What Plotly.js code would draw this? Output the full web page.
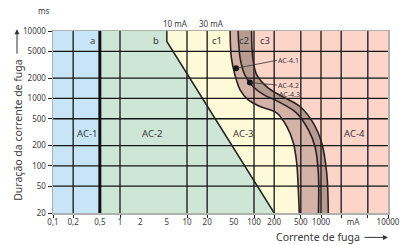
<!DOCTYPE html>
<html><head><meta charset="utf-8">
<script src="https://cdn.plot.ly/plotly-3.0.1.min.js"></script>
<style>html,body{margin:0;padding:0;background:#fff}#chart{width:401px;height:245px}</style>
</head><body><div id="chart"></div>
<script>
// ---- data ----
const xMin = 0.1, xMax = 10000, yMin = 20, yMax = 10000;
const xTickVals = [0.1, 0.2, 0.5, 1, 2, 5, 10, 20, 50, 100, 200, 500, 1000, 3000, 10000];
const xTickText = ['0,1', '0,2', '0,5', '1', '2', '5', '10', '20', '50', '100', '200', '500', '1000', 'mA', '10000'];
const yTickVals = [20, 50, 100, 200, 500, 1000, 2000, 5000, 10000];
const yTickText = ['20', '50', '100', '200', '500', '1000', '2000', '5000', '10000'];
const xGrid = [0.2, 1, 10, 20, 100, 200, 500, 1000, 2000, 5000];
const yGrid = [50, 100, 200, 500, 1000, 2000, 5000];
const lineA_x = [0.5, 0.5];
const lineA_y = [20, 10000];
const curveB_x = [5, 5, 200];
const curveB_y = [10000, 7000, 20];
const curveC1_x = [44, 46, 52, 62, 82, 123, 218, 308, 386, 434, 458, 474];
const curveC1_y = [10000, 3950, 2230, 1340, 950, 760, 610, 385, 220, 110, 45, 20];
const curveC2_x = [58, 62, 73, 97, 141, 220, 434, 646, 813, 912, 915];
const curveC2_y = [10000, 3990, 2230, 1490, 1130, 920, 606, 344, 194, 79, 20];
const curveC3_x = [92, 96, 110, 162, 271, 486, 768, 1024, 1216, 1285];
const curveC3_y = [10000, 3990, 2230, 1435, 1056, 759, 431, 218, 79, 20];
const dots_x = [54, 87];
const dots_y = [2800, 1720];
const zoneLabels = ['AC-1', 'AC-2', 'AC-3', 'AC-4'];
const zoneLabel_x = [0.32, 3.0, 68, 3200];
const zoneLabel_y = 300;
const curveLabels = ['a', 'b', 'c1', 'c2', 'c3'];
const curveLabel_x = [0.395, 3.39, 28, 71.7, 146];
const curveLabel_y = 7350;

// ---- styles ----
const C_BLUE = '#c7e5f6', C_GREEN = '#cde6d6', C_CREAM = '#fefad8', C_PINK = '#fcd5c8';
const C_BAND1 = '#d3b2a7', C_BAND2 = '#b79b91';
const FONT = 'Noto Sans, Open Sans, sans-serif';
const TXT = '#3a3a3a';
const L = Math.log10;

function gridLinesX(vals) { const x = [], y = []; vals.forEach(v => { x.push(v, v, null); y.push(yMin, yMax, null); }); return {x, y}; }
function gridLinesY(vals) { const x = [], y = []; vals.forEach(v => { x.push(xMin, xMax, null); y.push(v, v, null); }); return {x, y}; }
const gx = gridLinesX(xGrid), gy = gridLinesY(yGrid);

const traces = [
  {x: [xMin, lineA_x[0], lineA_x[1], xMin], y: [yMin, lineA_y[0], lineA_y[1], yMax], fill: 'toself', fillcolor: C_BLUE, mode: 'lines', line: {width: 0}, hoverinfo: 'skip'},
  {x: [lineA_x[0]].concat(curveB_x, [lineA_x[0]]), y: [yMax].concat(curveB_y, [yMin]), fill: 'toself', fillcolor: C_GREEN, mode: 'lines', line: {width: 0}, hoverinfo: 'skip'},
  {x: curveB_x, y: curveB_y, mode: 'lines', line: {width: 0}, hoverinfo: 'skip'},
  {x: curveC1_x, y: curveC1_y, mode: 'lines', fill: 'tonextx', fillcolor: C_CREAM, line: {width: 0, shape: 'spline', smoothing: 1}, hoverinfo: 'skip'},
  {x: curveC2_x, y: curveC2_y, mode: 'lines', fill: 'tonextx', fillcolor: C_BAND1, line: {width: 0, shape: 'spline', smoothing: 1}, hoverinfo: 'skip'},
  {x: curveC3_x, y: curveC3_y, mode: 'lines', fill: 'tonextx', fillcolor: C_BAND2, line: {width: 0, shape: 'spline', smoothing: 1}, hoverinfo: 'skip'},
  {x: gx.x, y: gx.y, mode: 'lines', line: {color: '#151515', width: 1.3}, connectgaps: false, hoverinfo: 'skip'},
  {x: gy.x, y: gy.y, mode: 'lines', line: {color: '#151515', width: 1.3}, connectgaps: false, hoverinfo: 'skip'},
  {x: lineA_x, y: lineA_y, mode: 'lines', line: {color: '#111', width: 3}, hoverinfo: 'skip'},
  {x: curveB_x, y: curveB_y, mode: 'lines', line: {color: '#222', width: 1.5}, hoverinfo: 'skip'},
  {x: curveC1_x, y: curveC1_y, mode: 'lines', line: {color: '#2a2220', width: 1.6, shape: 'spline', smoothing: 1}, hoverinfo: 'skip'},
  {x: curveC2_x, y: curveC2_y, mode: 'lines', line: {color: '#2a2220', width: 1.6, shape: 'spline', smoothing: 1}, hoverinfo: 'skip'},
  {x: curveC3_x, y: curveC3_y, mode: 'lines', line: {color: '#2a2220', width: 1.6, shape: 'spline', smoothing: 1}, hoverinfo: 'skip'},
  {x: dots_x, y: dots_y, xaxis: 'x2', mode: 'markers', marker: {color: '#151515', size: 6}, hoverinfo: 'skip'}
];

const base = {xanchor: 'center', yanchor: 'middle', showarrow: false};
const annotations = [];
zoneLabels.forEach((t, i) => annotations.push(Object.assign({}, base, {x: L(zoneLabel_x[i]), y: L(zoneLabel_y), xref: 'x', yref: 'y', text: t, font: {family: FONT, size: 9.5, color: TXT}})));
curveLabels.forEach((t, i) => annotations.push(Object.assign({}, base, {x: L(curveLabel_x[i]), y: L(curveLabel_y), xref: 'x', yref: 'y', text: t, font: {family: FONT, size: 9.5, color: TXT}})));
annotations.push(
  {x: L(dots_x[0]), y: L(dots_y[0]), xref: 'x', yref: 'y', text: 'AC-4.1', showarrow: true, arrowhead: 0, arrowwidth: 0.8, arrowcolor: '#333', ax: 41, ay: -8, xanchor: 'left', yanchor: 'middle', font: {family: FONT, size: 7, color: TXT}, borderpad: 0},
  {x: L(dots_x[1]), y: L(dots_y[1]), xref: 'x', yref: 'y', text: 'AC-4.2', showarrow: true, arrowhead: 0, arrowwidth: 0.8, arrowcolor: '#333', ax: 27, ay: 2.5, xanchor: 'left', yanchor: 'middle', font: {family: FONT, size: 7, color: TXT}, borderpad: 0},
  Object.assign({}, base, {x: L(dots_x[1]), y: L(dots_y[1]), xref: 'x', yref: 'y', text: 'AC-4.3', xanchor: 'left', xshift: 27, yshift: -11.5, font: {family: FONT, size: 7, color: TXT}}),
  Object.assign({}, base, {x: 0.367, y: 1.04, xref: 'paper', yref: 'paper', text: '10 mA', font: {family: FONT, size: 8, color: TXT}}),
  Object.assign({}, base, {x: 0.472, y: 1.04, xref: 'paper', yref: 'paper', text: '30 mA', font: {family: FONT, size: 8, color: TXT}}),
  Object.assign({}, base, {x: -0.027, y: 1.115, xref: 'paper', yref: 'paper', text: 'ms', font: {family: FONT, size: 8, color: TXT}}),
  Object.assign({}, base, {x: 0, y: 0.457, xref: 'paper', yref: 'paper', xshift: -35, text: 'Duração da corrente de fuga', textangle: -90, font: {family: FONT, size: 10.5, color: TXT}}),
  {x: 0, y: 1.01, xref: 'paper', yref: 'paper', xshift: -36, text: '', showarrow: true, arrowhead: 2, arrowsize: 1, arrowwidth: 1, arrowcolor: '#333', ax: 0, ay: 26},
  Object.assign({}, base, {x: 0.79, y: -0.134, xref: 'paper', yref: 'paper', text: 'Corrente de fuga', font: {family: FONT, size: 10.5, color: TXT}}),
  {x: 1.0, y: -0.134, xref: 'paper', yref: 'paper', text: '', showarrow: true, arrowhead: 2, arrowsize: 1, arrowwidth: 1, arrowcolor: '#333', ax: -25, ay: 0}
);

const layout = {
  width: 401, height: 245,
  margin: {l: 53, r: 13, t: 31, b: 32, pad: 0},
  paper_bgcolor: '#ffffff', plot_bgcolor: C_PINK,
  showlegend: false,
  xaxis: {type: 'log', range: [L(xMin), L(xMax)], tickmode: 'array', tickvals: [xMin].concat(xGrid, [xMax]), ticks: 'outside', ticklen: 3, tickcolor: '#222', tickwidth: 1, showticklabels: false, showgrid: false, zeroline: false, showline: true, linecolor: '#b0b0b0', linewidth: 1.5, mirror: true, fixedrange: true},
  xaxis2: {type: 'log', overlaying: 'x', anchor: 'y', side: 'bottom', range: [L(xMin), L(xMax)], tickmode: 'array', tickvals: xTickVals, ticktext: xTickText, ticks: '', showgrid: false, zeroline: false, showline: false, tickfont: {family: FONT, size: 8, color: TXT}, ticklabelstandoff: 3, fixedrange: true},
  yaxis: {type: 'log', range: [L(yMin), L(yMax)], tickmode: 'array', tickvals: yTickVals, ticktext: yTickText, ticks: 'outside', ticklen: 4, tickcolor: '#222', tickwidth: 1, showgrid: false, zeroline: false, showline: true, linecolor: '#b0b0b0', linewidth: 1.5, mirror: true, tickfont: {family: FONT, size: 8, color: TXT}, ticklabelstandoff: 0, fixedrange: true},
  annotations: annotations
};
traces.forEach(t => { t.showlegend = false; });
Plotly.newPlot('chart', traces, layout, {displayModeBar: false, staticPlot: true});
</script></body></html>
